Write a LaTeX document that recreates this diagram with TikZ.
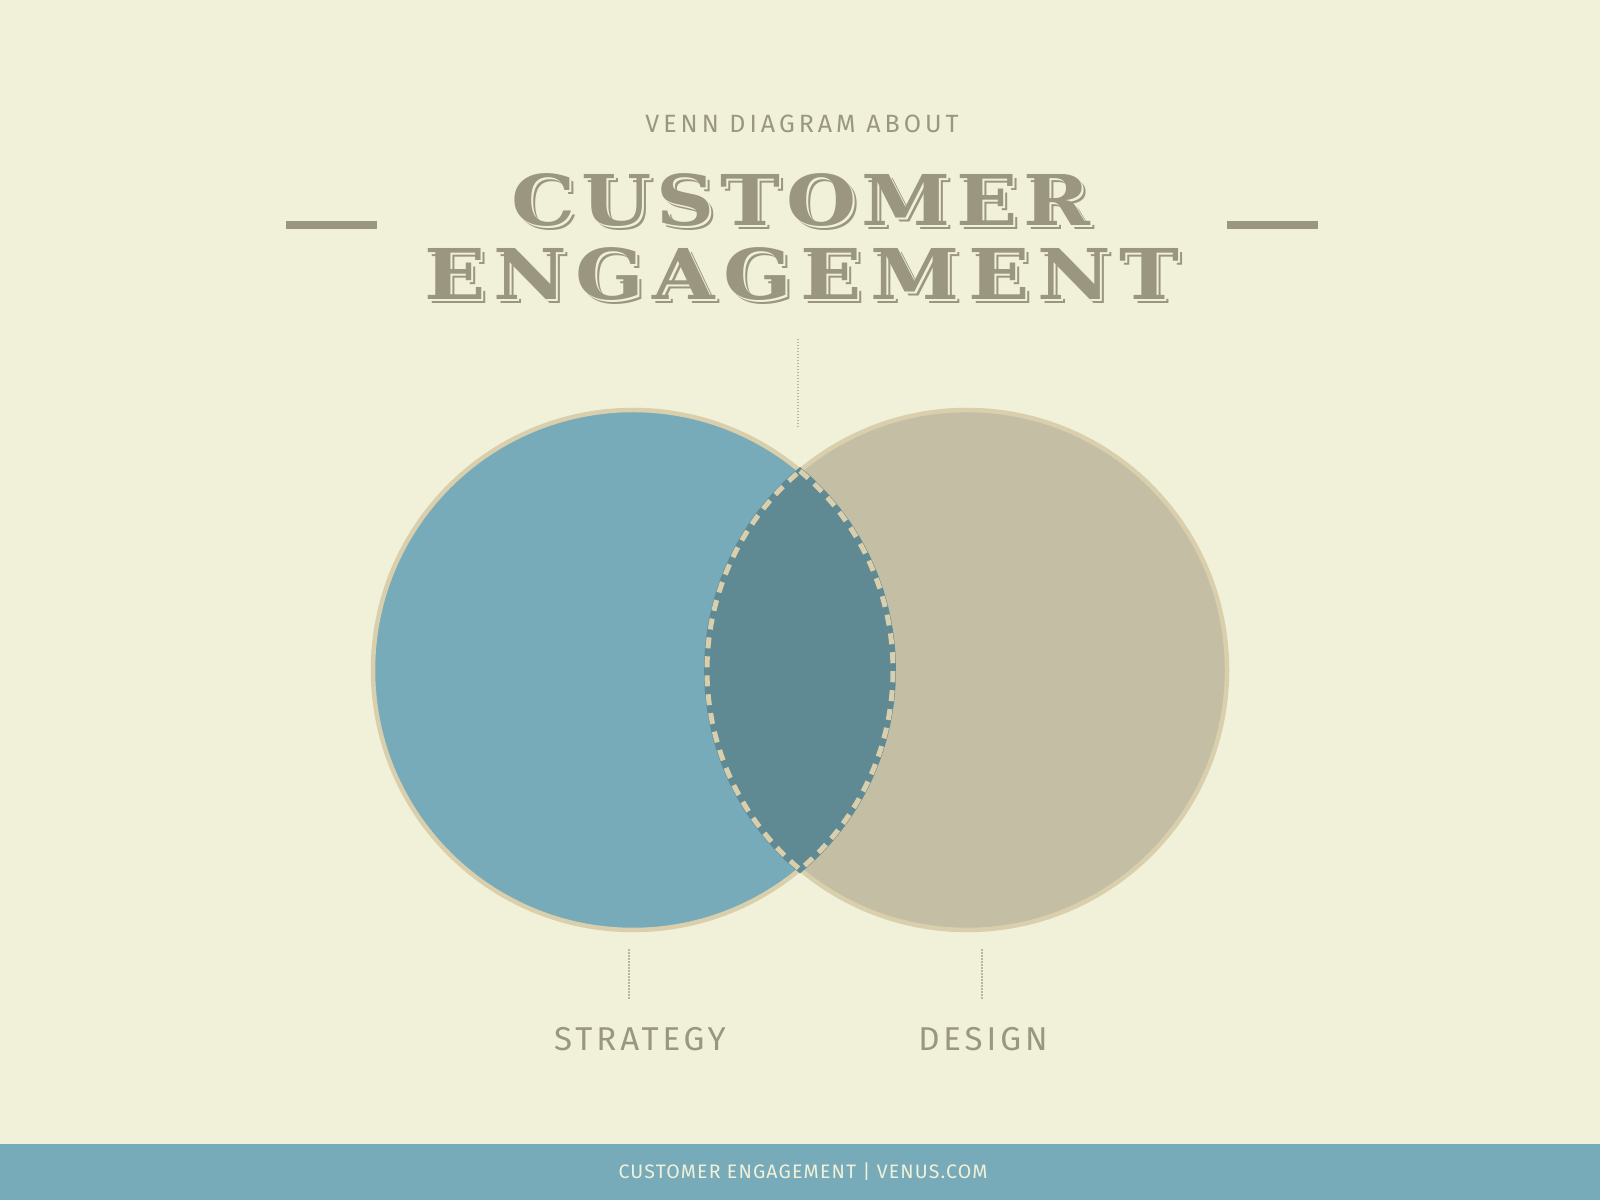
\documentclass[tikz,border=0pt]{standalone}
\usepackage{fontspec}
\setmainfont{Fira Sans}
\newfontfamily\titlefont[LetterSpace=8,FakeStretch=1.15]{DejaVu Serif}
\newfontfamily\titlewidefont[LetterSpace=12,FakeStretch=1.15]{DejaVu Serif}
\newfontfamily\capsfont[LetterSpace=12]{Fira Sans}
\newfontfamily\kickerfont[LetterSpace=16]{Fira Sans}
\newfontfamily\footfont[LetterSpace=6]{Fira Sans}

\definecolor{paper}{RGB}{241,241,217}
\definecolor{ink}{RGB}{154,150,127}
\definecolor{teal}{RGB}{120,171,185}
\definecolor{sand}{RGB}{196,190,165}
\definecolor{deepteal}{RGB}{95,138,148}
\definecolor{rim}{RGB}{217,207,172}
\definecolor{dots}{RGB}{185,182,160}

\tikzset{
  title/.style={font=\titlefont\bfseries\fontsize{70}{70}\selectfont, anchor=base, inner sep=0pt},
  titlewide/.style={title, font=\titlewidefont\bfseries\fontsize{70}{70}\selectfont},
  setname/.style={text=ink, font=\capsfont\fontsize{33}{40}\selectfont, anchor=base, inner sep=0pt},
  leader/.style={draw=dots, line width=1.2pt, dash pattern=on 1.5pt off 1.5pt},
  bar/.style={draw=ink, line width=8pt}
}

\begin{document}
\begin{tikzpicture}[x=1pt,y=1pt]
\useasboundingbox (0,0) rectangle (1600,1200);
\fill[paper] (0,0) rectangle (1600,1200);
% footer band
\fill[teal] (0,0) rectangle (1600,56);
\node[text=paper, font=\footfont\fontsize{19.5}{22}\selectfont, anchor=base, inner sep=0pt] (foot) at (803,21.5) {CUSTOMER ENGAGEMENT | VENUS.COM};

% the two sets
\filldraw[fill=sand, draw=rim, line width=4.5pt] (967,530) circle (260);
\filldraw[fill=teal, draw=rim, line width=4.5pt] (633,530) circle (260);
% overlap
\fill[deepteal] (800,729) arc[start angle=50.03, end angle=-50.03, radius=260]
  arc[start angle=230.03, end angle=129.97, radius=260] -- cycle;
\draw[deepteal, line width=6pt] (800,729) arc[start angle=50.03, end angle=-50.03, radius=260]
  arc[start angle=230.03, end angle=129.97, radius=260] -- cycle;
\draw[rim, line width=5pt, dash pattern=on 11pt off 8pt] (800,729) arc[start angle=50.03, end angle=-50.03, radius=260]
  arc[start angle=230.03, end angle=129.97, radius=260] -- cycle;

% headings
\node[text=ink, font=\kickerfont\fontsize{25}{30}\selectfont, anchor=base, inner sep=0pt] (kicker) at (802,1067) {VENN DIAGRAM ABOUT};
\foreach \d/\c in {4/ink,2/paper,0/ink} {
  \node[title, text=\c, xshift=\d, yshift=-\d] (cust\d) at (801,974) {CUSTOMER};
  \node[titlewide, text=\c, xshift=\d, yshift=-\d] (enga\d) at (802,900) {ENGAGEMENT};
}
\draw[bar] (286,974.5) -- (377,974.5);
\draw[bar] (1227,974.5) -- (1318,974.5);

% leaders
\coordinate (top a) at (798,861);
\coordinate (top b) at (798,771);
\draw[leader] (top a) -- (top b);
\node[setname] (strategy) at (640,150) {STRATEGY};
\node[setname] (design) at (983,150) {DESIGN};
\coordinate (left a) at (629,251);
\coordinate (right a) at (982,251);
\draw[leader] (left a) -- (left a |- 0,200);
\draw[leader] (right a) -- (right a |- 0,200);
\end{tikzpicture}
\end{document}
